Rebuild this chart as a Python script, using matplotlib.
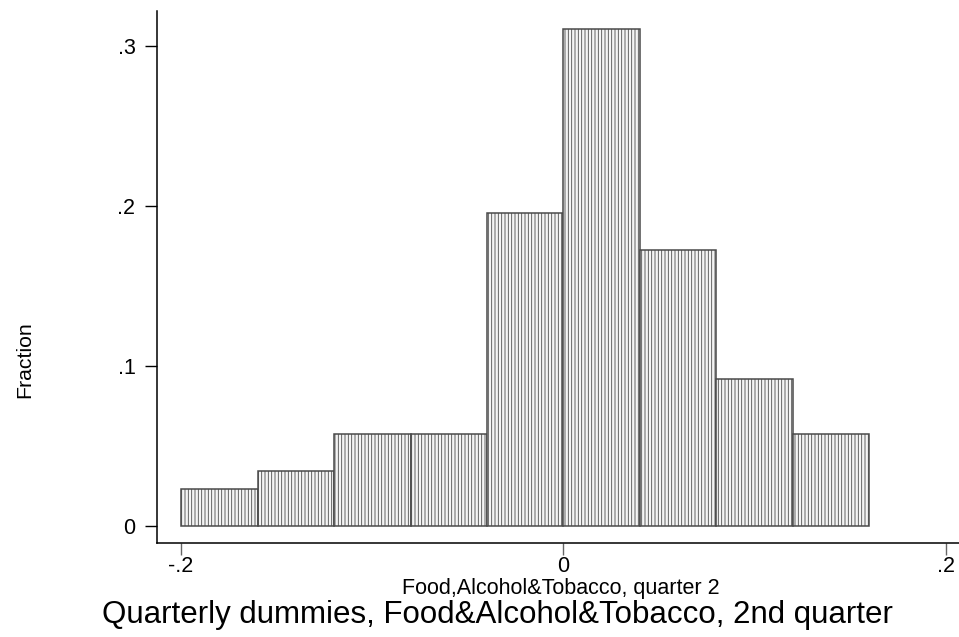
import matplotlib
matplotlib.use("Agg")
import matplotlib.pyplot as plt
import numpy as np

plt.rcParams['font.family'] = ['Liberation Sans', 'DejaVu Sans']
plt.rcParams['hatch.color'] = '#d4d4d4'
plt.rcParams['hatch.linewidth'] = 0.6

# Histogram of quarterly dummy estimates (bin width 0.04)
bin_left = [-0.20, -0.16, -0.12, -0.08, -0.04, 0.00, 0.04, 0.08, 0.12]
fraction = [0.023, 0.0345, 0.0575, 0.0575, 0.1954, 0.3103, 0.1724, 0.092, 0.0575]
bin_width = 0.04

xticks = [-0.2, 0.0, 0.2]
xtick_labels = ['-.2', '0', '.2']
yticks = [0.0, 0.1, 0.2, 0.3]
ytick_labels = ['0', '.1', '.2', '.3']

fig = plt.figure(figsize=(9.59, 6.37), dpi=100)
ax = fig.add_axes([157/959, 94/637, 1 - 157/959, (543 - 11)/637])

ax.bar(bin_left, fraction, width=bin_width, align='edge',
       facecolor='#f4f4f4', edgecolor='#4a4a4a', linewidth=1.1,
       hatch='|||||')

ax.set_xlim(-0.2126, 0.2069)
ax.set_ylim(-0.0108, 0.3217)

ax.set_xticks(xticks)
ax.set_xticklabels(xtick_labels)
ax.set_yticks(yticks)
ax.set_yticklabels(ytick_labels)

for side in ('top', 'right'):
    ax.spines[side].set_visible(False)
for side in ('left', 'bottom'):
    ax.spines[side].set_linewidth(1.1)
    ax.spines[side].set_color('black')

ax.tick_params(axis='y', length=8.5, width=1.0, pad=7, labelsize=15.5, colors='black')
ax.tick_params(axis='x', length=8.5, width=1.0, pad=1, labelsize=15.5, colors='black')
ax.tick_params(axis='x', color='#666666')

fig.text(561/959, 1 - 594/637, 'Food,Alcohol&Tobacco, quarter 2',
         ha='center', va='baseline', fontsize=15.5)
fig.text(25/959, 277/637, 'Fraction', rotation=90, ha='center', va='center', fontsize=15.3)
fig.text(497/959, 1 - 623/637, 'Quarterly dummies, Food&Alcohol&Tobacco, 2nd quarter',
         ha='center', va='baseline', fontsize=22.5)

fig.savefig('out.png', dpi=100)
